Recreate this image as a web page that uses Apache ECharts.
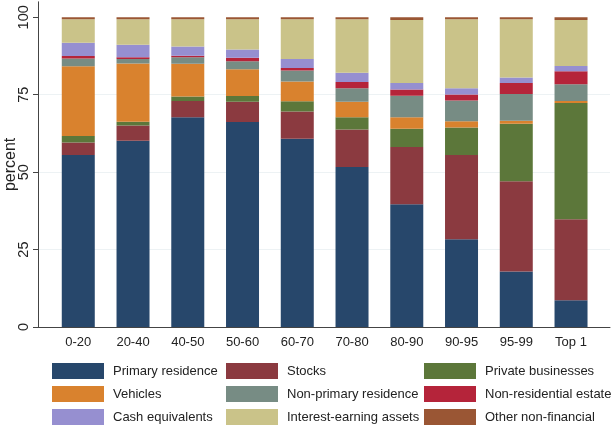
<!DOCTYPE html>
<html>
<head>
<meta charset="utf-8">
<style>
  html, body { margin: 0; padding: 0; background: #fff; }
  #chart { width: 614px; height: 427px; }
</style>
<script src="https://cdn.jsdelivr.net/npm/echarts@6/dist/echarts.min.js"></script>
</head>
<body>
<div id="chart"></div>
<script>
// Wealth groups (percentiles of the distribution)
const categories = ['0-20', '20-40', '40-50', '50-60', '60-70', '70-80', '80-90', '90-95', '95-99', 'Top 1'];
const yTicks = [0, 25, 50, 75, 100];

// Portfolio shares, percent of total assets, stacked bottom to top
const primaryResidence      = [55.5, 60.1, 67.7, 66.2, 60.8, 51.7, 39.6, 28.3, 17.9, 8.6];
const stocks                = [4.1, 5.0, 5.3, 6.5, 8.8, 12.1, 18.5, 27.2, 29.2, 26.2];
const privateBusinesses     = [2.1, 1.2, 1.4, 1.9, 3.3, 3.9, 5.9, 8.9, 18.5, 37.5];
const vehicles              = [22.5, 18.8, 10.6, 8.6, 6.4, 5.0, 3.7, 2.0, 1.0, 0.7];
const nonPrimaryResidence   = [2.5, 1.4, 2.1, 2.6, 3.5, 4.4, 7.0, 6.7, 8.6, 5.4];
const nonResidentialEstate  = [0.8, 0.6, 0.5, 1.1, 0.8, 2.0, 2.0, 2.0, 3.6, 4.2];
const cashEquivalents       = [4.3, 4.0, 3.0, 2.7, 2.9, 3.0, 2.1, 2.0, 1.8, 1.7];
const interestEarning       = [7.6, 8.3, 8.8, 9.8, 12.9, 17.3, 20.3, 22.3, 18.8, 14.8];
const otherNonFinancial     = [0.6, 0.6, 0.6, 0.6, 0.6, 0.6, 0.9, 0.6, 0.6, 0.9];

const layers = [
  { name: 'Primary residence',       data: primaryResidence,     color: '#27476b' },
  { name: 'Stocks',                  data: stocks,               color: '#8b3a40' },
  { name: 'Private businesses',      data: privateBusinesses,    color: '#5c773a' },
  { name: 'Vehicles',                data: vehicles,             color: '#d9822e' },
  { name: 'Non-primary residence',   data: nonPrimaryResidence,  color: '#778c84' },
  { name: 'Non-residential estate',  data: nonResidentialEstate, color: '#b5243a' },
  { name: 'Cash equivalents',        data: cashEquivalents,      color: '#968fd0' },
  { name: 'Interest-earning assets', data: interestEarning,      color: '#cac389' },
  { name: 'Other non-financial',     data: otherNonFinancial,    color: '#9a5634' }
];

const legendColumns = [
  ['Primary residence', 'Vehicles', 'Cash equivalents'],
  ['Stocks', 'Non-primary residence', 'Interest-earning assets'],
  ['Private businesses', 'Non-residential estate', 'Other non-financial']
];
const legendLeft = [52, 226, 424];

const FONT = 'Liberation Sans, Arial, sans-serif';
const chart = echarts.init(document.getElementById('chart'), null, { renderer: 'canvas' });

const legends = legendColumns.map((names, i) => ({
  data: names,
  orient: 'vertical',
  left: legendLeft[i],
  top: 363,
  itemWidth: 52,
  itemHeight: 16,
  itemGap: 7,
  padding: 0,
  icon: 'rect',
  selectedMode: false,
  textStyle: { fontFamily: FONT, fontSize: 13, color: '#222', padding: [0, 0, 0, 4] }
}));

chart.setOption({
  animation: false,
  backgroundColor: '#fff',
  legend: legends,
  grid: [
    // frame: axis lines, gridlines and y labels
    { left: 38, right: 4, top: 1.8, bottom: 100, containLabel: false, outerBoundsMode: 'none' },
    // bar area
    { left: 50.9, right: 15.6, top: 17.3, bottom: 100, containLabel: false, outerBoundsMode: 'none' }
  ],
  xAxis: [
    {
      gridIndex: 0, type: 'value', min: 0, max: 1,
      axisLine: { show: true, lineStyle: { color: '#444', width: 1 } },
      axisTick: { show: false }, axisLabel: { show: false }, splitLine: { show: false }
    },
    {
      gridIndex: 1, type: 'category', data: categories,
      axisLine: { show: false }, axisTick: { show: false },
      axisLabel: { fontFamily: FONT, fontSize: 13, color: '#222', margin: 9 }
    }
  ],
  yAxis: [
    {
      gridIndex: 0, type: 'value', min: 0, max: 105, interval: 25,
      name: 'percent', nameLocation: 'middle', nameGap: 19, nameMoveOverlap: false,
      nameTextStyle: { fontFamily: FONT, fontSize: 16, color: '#222' },
      axisLine: { show: true, lineStyle: { color: '#444', width: 1 } },
      axisTick: { show: true, length: 5, customValues: yTicks, lineStyle: { color: '#444' } },
      axisLabel: {
        customValues: yTicks, rotate: 90, margin: 7,
        align: 'center', verticalAlign: 'bottom',
        fontFamily: FONT, fontSize: 14.5, color: '#222'
      },
      splitLine: { show: true, showMinLine: false, showMaxLine: false, lineStyle: { color: '#edf2f4', width: 1 } }
    },
    {
      gridIndex: 1, type: 'value', min: 0, max: 100,
      axisLine: { show: false }, axisTick: { show: false },
      axisLabel: { show: false }, splitLine: { show: false }
    }
  ],
  series: layers.map(l => ({
    name: l.name,
    type: 'bar',
    stack: 'shares',
    xAxisIndex: 1,
    yAxisIndex: 1,
    barWidth: 33,
    data: l.data,
    itemStyle: { color: l.color },
    emphasis: { disabled: true }
  }))
});
</script>
</body>
</html>
